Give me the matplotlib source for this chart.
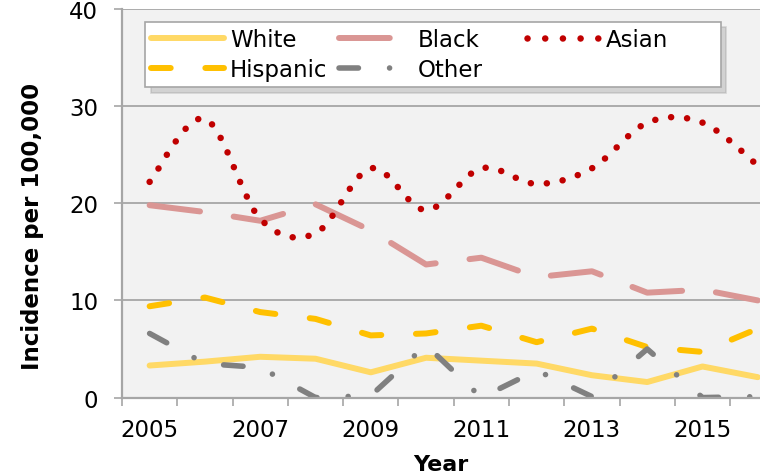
import numpy as np
import matplotlib
matplotlib.use('Agg')
import matplotlib.pyplot as plt
from matplotlib.path import Path
from matplotlib.patches import PathPatch
from matplotlib.lines import Line2D

plt.rcParams['font.family'] = 'DejaVu Sans'

# data (incidence per 100,000)
years = np.arange(2005, 2017)
white = [3.3, 3.7, 4.2, 4.0, 2.6, 4.1, 3.8, 3.5, 2.3, 1.6, 3.2, 2.1]
black = [19.8, 19.1, 18.2, 19.9, 17.2, 13.7, 14.4, 12.4, 13.0, 10.8, 11.1, 10.0]
asian = [22.2, 28.7, 18.4, 16.9, 23.6, 19.3, 23.6, 22.0, 23.6, 28.3, 28.3, 23.9]
hispanic = [9.4, 10.3, 8.8, 8.1, 6.4, 6.6, 7.4, 5.7, 7.1, 5.2, 4.7, 7.1]
other = [6.6, 3.5, 3.1, 0.0, 0.2, 5.4, 0.0, 2.8, 0.1, 5.0, 0.0, 0.1]
year_labels = ['2005', '2007', '2009', '2011', '2013', '2015']

c_white = '#FFD966'
c_black = '#DA9694'
c_asian = '#C00000'
c_hisp = '#FFC000'
c_other = '#808080'
c_axis = '#A6A6A6'


def smooth_path(xs, ys):
    # excel-style smoothed line: cubic bezier segments through the points
    pts = np.column_stack([xs, ys]).astype(float)
    n = len(pts)
    verts = [pts[0]]
    codes = [Path.MOVETO]
    for i in range(n - 1):
        p0 = pts[max(i - 1, 0)]
        p1 = pts[i]
        p2 = pts[i + 1]
        p3 = pts[min(i + 2, n - 1)]
        verts += [p1 + (p2 - p0) / 6, p2 - (p3 - p1) / 6, p2]
        codes += [Path.CURVE4] * 3
    return Path(verts, codes)


fig = plt.figure(figsize=(7.6, 4.77), dpi=100)
ax = fig.add_axes([0.1605, 0.1644, 0.8395, 0.8147])
ax.set_facecolor('#F2F2F2')

common = dict(dash_capstyle='round', solid_capstyle='round', solid_joinstyle='round',
              dash_joinstyle='round')

ax.plot(years, white, color=c_white, lw=4.3, label='White', **common)
ax.plot(years, black, color=c_black, lw=4.3, linestyle=(0, (8.5, 5.7)), label='Black', **common)

asian_ls = (0, (0.01, 2.45))
ax.add_patch(PathPatch(smooth_path(years, asian), fill=False, edgecolor=c_asian, lw=4.7,
                       linestyle=asian_ls, capstyle='round', joinstyle='round', zorder=2))
asian_handle = Line2D([], [], color=c_asian, lw=4.7, linestyle=(0, (0.01, 2.7)),
                      dash_capstyle='round', label='Asian')

ax.plot(years, hispanic, color=c_hisp, lw=4.3, linestyle=(0, (3.3, 5.8)), label='Hispanic', **common)
ax.plot(years, other, color=c_other, lw=4.0, linestyle=(0, (3.5, 5.6, 0.01, 5.6)), label='Other', **common)

ax.set_xlim(2004.5, 2016.04)
ax.set_ylim(0, 40)

# axes styling
for s in ['top', 'right']:
    ax.spines[s].set_visible(False)
for s in ['left', 'bottom']:
    ax.spines[s].set_color(c_axis)
    ax.spines[s].set_linewidth(1.6)

ax.set_yticks([0, 10, 20, 30, 40])
ax.yaxis.grid(True, color=c_axis, lw=1.3)
ax.set_axisbelow(True)
ax.tick_params(axis='y', length=6, width=1.2, color=c_axis, pad=11, labelsize=16.5)

ax.set_xticks([int(y) for y in year_labels])
ax.set_xticklabels(year_labels)
ax.set_xticks(np.arange(2004.5, 2016.5, 1), minor=True)
ax.tick_params(axis='x', which='major', length=0, pad=15, labelsize=16.5)
ax.tick_params(axis='x', which='minor', length=5.5, width=1.2, color=c_axis)

ax.set_xlabel('Year', fontsize=16, fontweight='bold', va='baseline')
ax.xaxis.set_label_coords(0.5, -0.186)
ax.set_ylabel('Incidence per 100,000', fontsize=16.5, fontweight='bold')
ax.yaxis.set_label_coords(-0.122, 0.443)

# legend: White/Hispanic, Black/Other, Asian columns
h, l = ax.get_legend_handles_labels()
hd = dict(zip(l, h))
handles = [hd['White'], hd['Hispanic'], hd['Black'], hd['Other'], asian_handle]
leg = ax.legend(handles=handles, ncol=3, loc='upper left', bbox_to_anchor=(0.036, 0.967),
                borderaxespad=0, fontsize=16.5, handlelength=3.19, handletextpad=0.26,
                columnspacing=0.51, borderpad=0.25, labelspacing=0.34, fancybox=False,
                framealpha=1, edgecolor=c_axis,
                shadow={'ox': 4, 'oy': -4, 'shade': 0.4, 'alpha': 0.35})
leg.get_frame().set_linewidth(1.2)
leg._legend_handle_box.mode = 'equal'

fig.savefig('out.png', dpi=100)
